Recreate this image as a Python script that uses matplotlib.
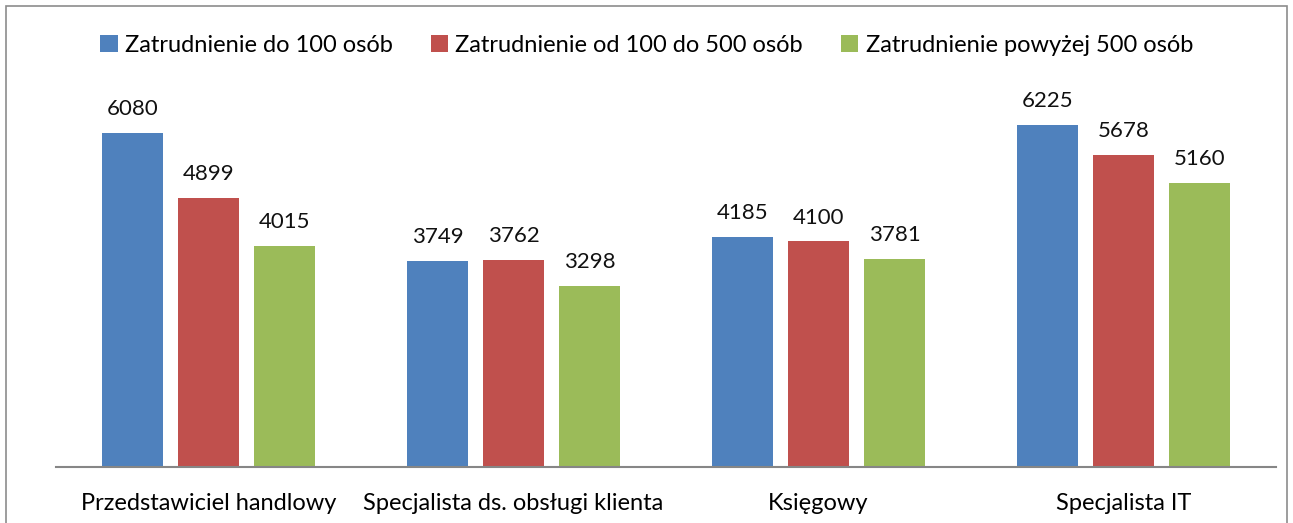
import matplotlib
matplotlib.use('Agg')
import matplotlib.pyplot as plt
import numpy as np
from matplotlib.patches import Rectangle

# --- Data ---
categories = ["Przedstawiciel handlowy", "Specjalista ds. obsługi klienta",
              "Księgowy", "Specjalista IT"]
series_names = ["Zatrudnienie do 100 osób", "Zatrudnienie od 100 do 500 osób",
                "Zatrudnienie powyżej 500 osób"]
small = [6080, 3749, 4185, 6225]
medium = [4899, 3762, 4100, 5678]
large = [4015, 3298, 3781, 5160]
colors = ["#4F81BD", "#C0504D", "#9BBB59"]

plt.rcParams['font.family'] = ['Lato', 'DejaVu Sans']

W, H = 1293, 523
fig = plt.figure(figsize=(W / 100, H / 100), dpi=100)

# outer chart frame
fig.patches.append(Rectangle((6 / W, -0.05), (1287 - 6) / W, 1.05 - 6 / H,
                             transform=fig.transFigure, fill=False,
                             edgecolor="#8c8c8c", linewidth=1.2))

ax = fig.add_axes([56 / W, 1 - 467 / H, (1276 - 56) / W, (467 - 82) / H])

x = np.arange(len(categories))
bw = 61 / 305
step = 76 / 305
for i, (vals, name) in enumerate(zip([small, medium, large], series_names)):
    bars = ax.bar(x + (i - 1) * step, vals, width=bw, color=colors[i], label=name)
    for b, v in zip(bars, vals):
        ax.annotate(str(v), (b.get_x() + b.get_width() / 2, v),
                    xytext=(0, 10), textcoords="offset points",
                    ha="center", va="bottom", fontsize=16, color="#111111")

ax.set_xlim(-0.5, len(categories) - 0.5)
ax.set_ylim(0, 7000)
ax.set_yticks([])
ax.set_xticks(x)
ax.set_xticklabels(categories, fontsize=17)
ax.tick_params(axis="x", length=0, pad=19)
for s in ["left", "right", "top"]:
    ax.spines[s].set_visible(False)
ax.spines["bottom"].set_color("#868686")
ax.spines["bottom"].set_linewidth(1.5)

fig.legend(loc="center", bbox_to_anchor=(0.5, 1 - 45 / H), ncol=3,
           frameon=False, fontsize=17, handlelength=0.75, handleheight=0.75,
           handletextpad=0.3, columnspacing=1.6)

fig.savefig("out.png", dpi=100)
